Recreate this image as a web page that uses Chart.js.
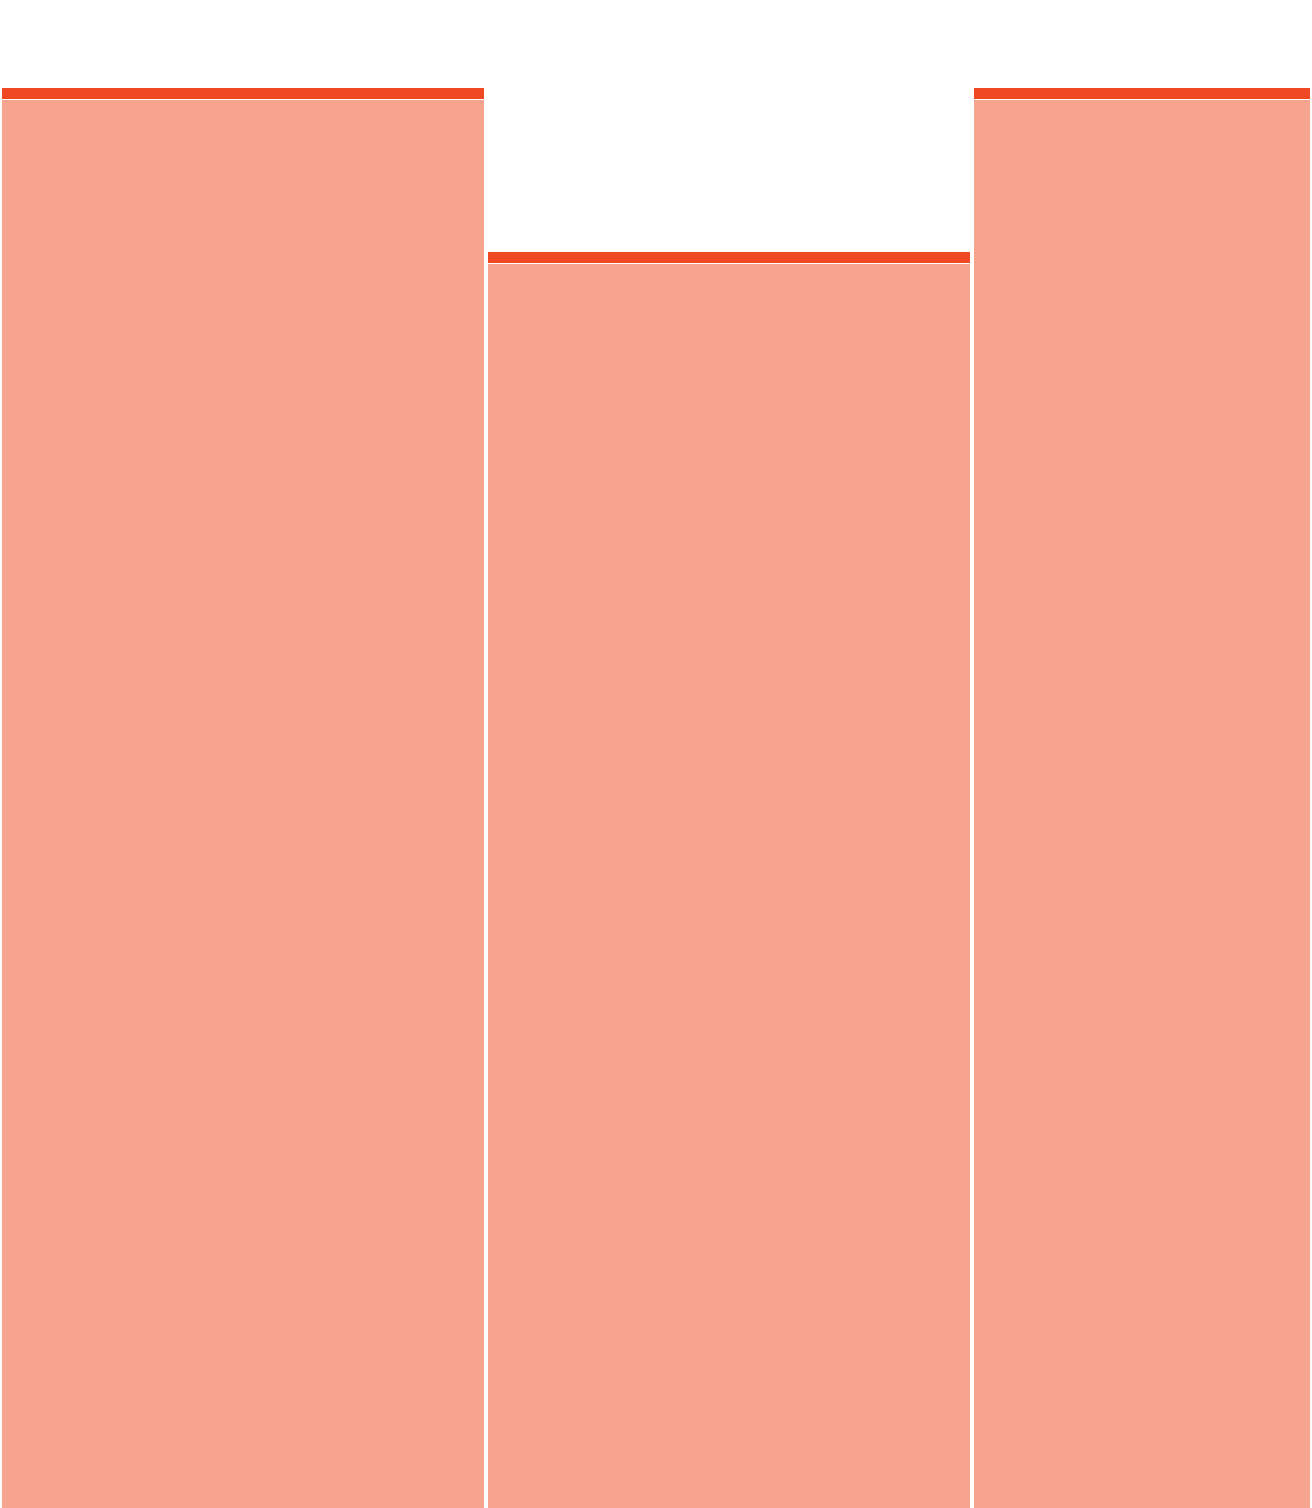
<!DOCTYPE html>
<html>
<head>
<meta charset="utf-8">
<script src="https://cdn.jsdelivr.net/npm/chart.js@4/dist/chart.umd.min.js"></script>
<style>
  html, body { margin: 0; padding: 0; background: #ffffff; overflow: hidden; }
  #clip { width: 1310px; height: 1508px; overflow: hidden; }
</style>
</head>
<body>
<div id="clip">
  <canvas id="bars" width="1458" height="1508"></canvas>
</div>
<script>
// chart data
var categories = ['A', 'B', 'C'];
var values = [26, 23, 26];
var yMax = 27.61;

var capColor = '#EF4823';
var fillColor = '#F6A390';

// thin white line under the cap of each bar
var capGap = {
    id: 'capGap',
    afterDatasetsDraw: function (chart) {
        var ctx = chart.ctx;
        var meta = chart.getDatasetMeta(0);
        ctx.save();
        ctx.fillStyle = '#ffffff';
        meta.data.forEach(function (bar) {
            ctx.fillRect(bar.x - bar.width / 2, Math.round(bar.y) + 11, bar.width, 1);
        });
        ctx.restore();
    }
};

new Chart(document.getElementById('bars'), {
    type: 'bar',
    data: {
        labels: categories,
        datasets: [{
            data: values,
            backgroundColor: fillColor,
            borderColor: capColor,
            borderWidth: {top: 12, left: 0, right: 0, bottom: 0},
            borderSkipped: 'start',
            categoryPercentage: 1.0,
            barPercentage: 0.992
        }]
    },
    options: {
        responsive: false,
        animation: false,
        devicePixelRatio: 1,
        layout: {padding: 0},
        plugins: {
            legend: {display: false},
            tooltip: {enabled: false}
        },
        scales: {
            x: {display: false},
            y: {display: false, min: 0, max: yMax}
        }
    },
    plugins: [capGap]
});
</script>
</body>
</html>
